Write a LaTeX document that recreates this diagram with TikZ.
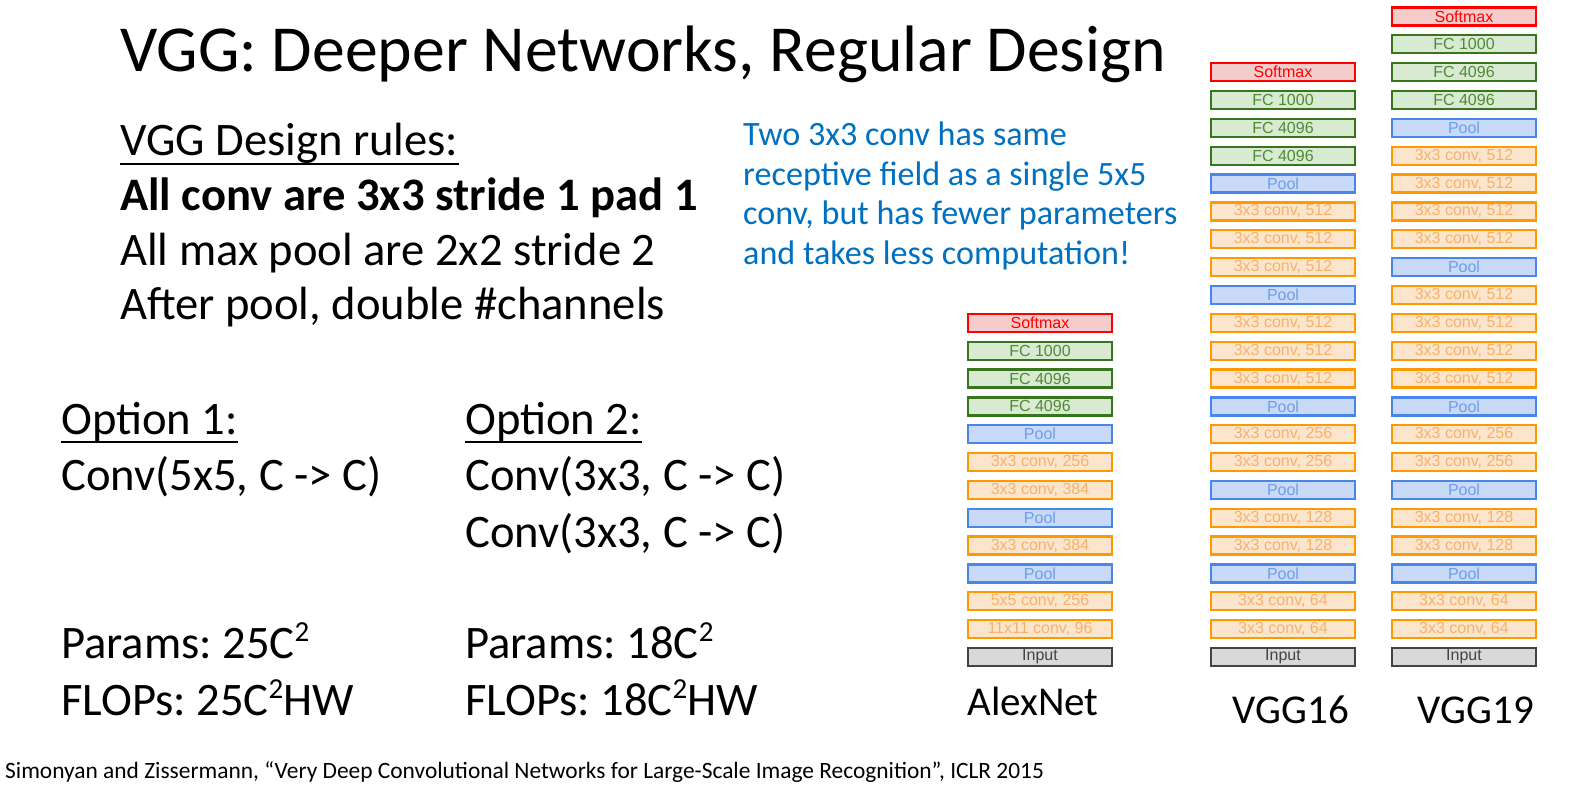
\documentclass[tikz,border=0pt]{standalone}
\usepackage{fontspec}
\setmainfont{Carlito}
\newfontfamily\layerfont{Liberation Sans}
\usetikzlibrary{positioning}
\definecolor{softRed}{HTML}{FF0000}
\definecolor{softFill}{HTML}{F4CCCC}
\definecolor{fcGreen}{HTML}{38761D}
\definecolor{fcFill}{HTML}{D9EAD3}
\definecolor{fcText}{HTML}{4F8A35}
\definecolor{poolBlue}{HTML}{4A86E8}
\definecolor{poolFill}{HTML}{C9DAF8}
\definecolor{poolText}{HTML}{6D9EEB}
\definecolor{convOrange}{HTML}{FF9900}
\definecolor{convFill}{HTML}{FCE5CD}
\definecolor{convText}{HTML}{F6B26B}
\definecolor{inputGray}{HTML}{434343}
\definecolor{inputFill}{HTML}{D9D9D9}
\definecolor{noteBlue}{HTML}{0070C0}
\newcommand{\sqtwo}{\raisebox{0.36em}{\fontsize{29}{29}\selectfont 2}}
\frenchspacing

\tikzset{
  layer/.style={draw, line width=2.3pt, minimum width=144pt, minimum height=18pt,
                inner sep=0pt, font=\layerfont\fontsize{16}{16}\selectfont},
  inbox/.style={layer, draw=inputGray, fill=inputFill, text=inputGray},
  convbox/.style={layer, draw=convOrange, fill=convFill, text=convText},
  poolbox/.style={layer, draw=poolBlue, fill=poolFill, text=poolText},
  fcbox/.style={layer, draw=fcGreen, fill=fcFill, text=fcText},
  softbox/.style={layer, draw=softRed, fill=softFill, text=softRed},
  body/.style={anchor=base west, inner sep=0pt, font=\fontsize{46.6}{55}\selectfont},
  netname/.style={anchor=base, inner sep=0pt, font=\fontsize{41}{49}\selectfont},
  uline/.style={line width=2pt}
}

\begin{document}
\begin{tikzpicture}[x=1pt, y=-1pt, node distance=7.55pt]
    \useasboundingbox (0,0) rectangle (1591,789);

    % title and design rules
    \node[anchor=base west, inner sep=0pt, font=\fontsize{65.7}{78}\selectfont] (title)
      at (120,72) {VGG: Deeper Networks, Regular Design};
    \node[body] (rules) at (120,156) {VGG Design rules:};
    \draw[uline] ([yshift=-8pt]rules.base west) -- ([yshift=-8pt]rules.base east);
    \node[body, font=\fontsize{46.6}{55}\selectfont\bfseries] (ruleconv) at (120,210) {All conv are 3x3 stride 1 pad 1};
    \node[body] (rulepool) at (120,265) {All max pool are 2x2 stride 2};
    \node[body] (rulechan) at (120,319) {After pool, double \#channels};

    \node[anchor=north west, inner sep=0pt, align=left, text=noteBlue,
          font=\fontsize{34.1}{39.5}\selectfont] (note) at (743,122)
      {Two 3x3 conv has same\\receptive field as a single 5x5\\conv, but has fewer parameters\\and takes less computation!};

    % the two options
    \node[body] (opt1) at (61,434) {Option 1:};
    \draw[uline] ([yshift=-8pt]opt1.base west) -- ([yshift=-8pt]opt1.base east);
    \node[body] (opt1conv) at (61,490) {Conv(5x5, C -> C)};
    \node[body] (opt1par) at (61,658) {Params: 25C\sqtwo};
    \node[body] (opt1flop) at (61,715) {FLOPs: 25C\sqtwo HW};

    \node[body] (opt2) at (465,434) {Option 2:};
    \draw[uline] ([yshift=-8pt]opt2.base west) -- ([yshift=-8pt]opt2.base east);
    \node[body] (opt2conva) at (465,490) {Conv(3x3, C -> C)};
    \node[body] (opt2convb) at (465,547) {Conv(3x3, C -> C)};
    \node[body] (opt2par) at (465,658) {Params: 18C\sqtwo};
    \node[body] (opt2flop) at (465,715) {FLOPs: 18C\sqtwo HW};

    % AlexNet
    \node[inbox] (alex0) at (1040,657) {Input};
    \foreach \kind/\txt [count=\i, remember=\i as \j (initially 0)] in
      {convbox/{11x11 conv, 96}, convbox/{5x5 conv, 256}, poolbox/Pool,
       convbox/{3x3 conv, 384}, poolbox/Pool, convbox/{3x3 conv, 384},
       convbox/{3x3 conv, 256}, poolbox/Pool, fcbox/FC 4096, fcbox/FC 4096,
       fcbox/FC 1000, softbox/Softmax}
      \node[\kind, above=of alex\j] (alex\i) {\txt};

    % VGG16
    \node[inbox] (vggA0) at (1283,657) {Input};
    \foreach \kind/\txt [count=\i, remember=\i as \j (initially 0)] in
      {convbox/{3x3 conv, 64}, convbox/{3x3 conv, 64}, poolbox/Pool,
       convbox/{3x3 conv, 128}, convbox/{3x3 conv, 128}, poolbox/Pool,
       convbox/{3x3 conv, 256}, convbox/{3x3 conv, 256}, poolbox/Pool,
       convbox/{3x3 conv, 512}, convbox/{3x3 conv, 512}, convbox/{3x3 conv, 512}, poolbox/Pool,
       convbox/{3x3 conv, 512}, convbox/{3x3 conv, 512}, convbox/{3x3 conv, 512}, poolbox/Pool,
       fcbox/FC 4096, fcbox/FC 4096, fcbox/FC 1000, softbox/Softmax}
      \node[\kind, above=of vggA\j] (vggA\i) {\txt};

    % VGG19
    \node[inbox] (vggB0) at (1464,657) {Input};
    \foreach \kind/\txt [count=\i, remember=\i as \j (initially 0)] in
      {convbox/{3x3 conv, 64}, convbox/{3x3 conv, 64}, poolbox/Pool,
       convbox/{3x3 conv, 128}, convbox/{3x3 conv, 128}, poolbox/Pool,
       convbox/{3x3 conv, 256}, convbox/{3x3 conv, 256}, poolbox/Pool,
       convbox/{3x3 conv, 512}, convbox/{3x3 conv, 512}, convbox/{3x3 conv, 512},
       convbox/{3x3 conv, 512}, poolbox/Pool,
       convbox/{3x3 conv, 512}, convbox/{3x3 conv, 512}, convbox/{3x3 conv, 512},
       convbox/{3x3 conv, 512}, poolbox/Pool,
       fcbox/FC 4096, fcbox/FC 4096, fcbox/FC 1000, softbox/Softmax}
      \node[\kind, above=of vggB\j] (vggB\i) {\txt};

    \node[netname] (alexname) at (1033,715) {AlexNet};
    \node[netname] (vggAname) at (1291,723) {VGG16};
    \node[netname] (vggBname) at (1476,723) {VGG19};

    \node[anchor=base west, inner sep=0pt, font=\fontsize{23.4}{27}\selectfont] (cite) at (5,778)
      {Simonyan and Zissermann, “Very Deep Convolutional Networks for Large-Scale Image Recognition”, ICLR 2015};
  \end{tikzpicture}
\end{document}
